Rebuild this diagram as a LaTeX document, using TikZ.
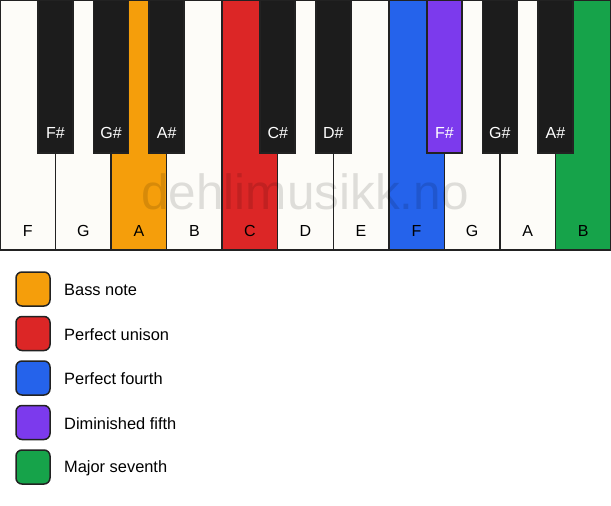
\documentclass[tikz,border=0pt]{standalone}
\usepackage{fontspec}
\setmainfont{Liberation Sans}
\definecolor{keywhite}{HTML}{FDFCF8}
\definecolor{keyblack}{HTML}{1C1C1C}
\definecolor{keyline}{HTML}{222222}
\definecolor{korange}{HTML}{F59E0B}
\definecolor{kred}{HTML}{DC2626}
\definecolor{kblue}{HTML}{2563EB}
\definecolor{kpurple}{HTML}{7C3AED}
\definecolor{kgreen}{HTML}{16A34A}
\begin{document}
\begin{tikzpicture}[x=1pt,y=-1pt,
  whitekey/.style={draw=keyline, line width=1.5pt, minimum width=55.545pt, minimum height=250pt, anchor=north west, inner sep=0pt, outer sep=0pt},
  blackkey/.style={draw=keyline, line width=1.5pt, minimum width=35pt, minimum height=153pt, anchor=north, inner sep=0pt, outer sep=0pt},
  keylabel/.style={font=\fontsize{16}{19}\selectfont, inner sep=0pt},
  swatch/.style={draw=keyline, line width=1.5pt, rounded corners=6pt, minimum width=34pt, minimum height=34pt, inner sep=0pt},
  legendtext/.style={font=\fontsize{16.4}{19}\selectfont, anchor=west, inner sep=0pt},
  watermark/.style={font=\fontsize{49.5}{56}\selectfont, text=black, text opacity=0.12, inner sep=0pt}
]
\useasboundingbox (0,0) rectangle (611,506);
\fill[white] (0,0) rectangle (611,506);
% white keys
\foreach \i/\n/\c in {0/F/keywhite,1/G/keywhite,2/A/korange,3/B/keywhite,4/C/kred,5/D/keywhite,6/E/keywhite,7/F/kblue,8/G/keywhite,9/A/keywhite,10/B/kgreen}{
  \node[whitekey, fill=\c] (w\i) at ({\i*55.545},0) {};
  \node[keylabel, text=black] (wl\i) at ({(\i+0.5)*55.545},231) {\n};
}
% watermark
\node[watermark] (wm) at (305,192) {dehlimusikk.no};
% black keys
\foreach \i/\n/\c in {1/F/keyblack,2/G/keyblack,3/A/keyblack,5/C/keyblack,6/D/keyblack,8/F/kpurple,9/G/keyblack,10/A/keyblack}{
  \node[blackkey, fill=\c] (b\i) at ({\i*55.545},0) {};
  \node[keylabel, text=white] (bl\i) at ({\i*55.545},133) {\n\#};
}
% legend
\foreach \k/\c/\t in {0/korange/Bass note,1/kred/Perfect unison,2/kblue/Perfect fourth,3/kpurple/Diminished fifth,4/kgreen/Major seventh}{
  \node[swatch, fill=\c] (s\k) at (33,{289+\k*44.5}) {};
  \node[legendtext] (t\k) at (64,{290+\k*44.5}) {\t};
}
\end{tikzpicture}
\end{document}
